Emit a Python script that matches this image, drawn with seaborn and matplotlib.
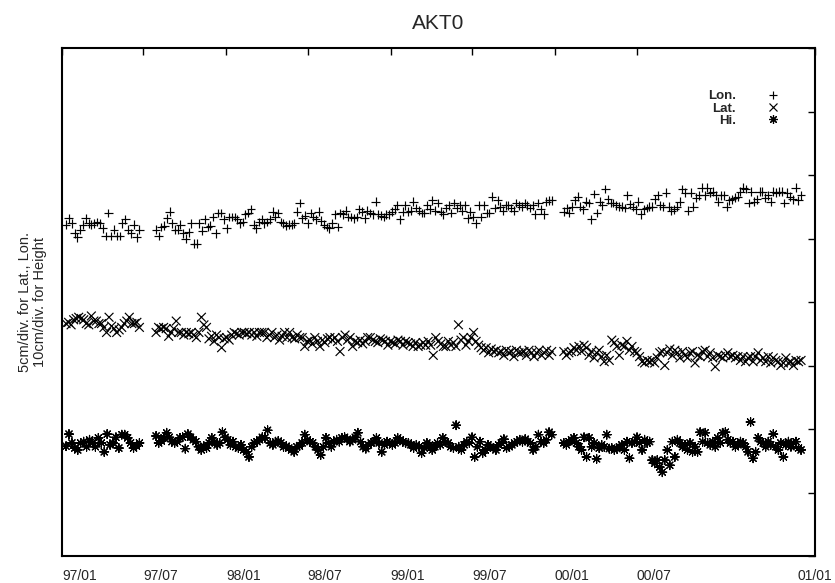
import numpy as np
import pandas as pd
import matplotlib
matplotlib.use("Agg")
import matplotlib.pyplot as plt
import matplotlib.dates as mdates
from matplotlib.lines import Line2D
import seaborn as sns

# observation periods (three campaigns, gaps in mid-1997 and around Y2K)
seg_a = ("1997-01-10", "1997-06-22")
seg_b = ("1997-07-29", "1999-12-25")
seg_c = ("2000-01-21", "2001-07-01")

# Longitude displacement, cm (5 cm/div)
lon_a = [1.1, 1.6, 1.2, 0.4, 0.1, 0.7, 1.1, 1.6, 1.2, 1.1, 1.2, 1.3, 1.2, 0.8, 0.2, 2.0, 0.2, 0.7,
         0.2, 0.2, 1.2, 1.5, 0.7, 0.4, 1.1, 0.1, 0.7]
lon_b = [0.7, 0.2, 0.9, 1.0, 1.6, 2.1, 1.2, 0.7, 0.7, 1.1, 0.4, 0.0, 0.5, 1.2, -0.4, -0.4, 1.2, 0.6,
         1.5, 0.9, 1.0, 1.7, 0.4, 2.0, 2.0, 1.5, 0.8, 1.7, 1.7, 1.7, 1.5, 1.2, 1.3, 1.9, 2.0,
         2.3, 1.1, 0.8, 1.3, 1.5, 1.2, 1.3, 1.5, 2.1, 1.7, 2.0, 1.3, 1.2, 1.0, 1.1, 1.1, 1.2, 2.1,
         2.8, 1.6, 1.8, 1.2, 2.0, 1.7, 1.5, 2.1, 1.4, 1.1, 0.9, 0.8, 1.2, 1.9, 0.9, 2.0, 1.9, 2.2,
         1.7, 1.7, 1.6, 1.7, 2.3, 2.1, 1.6, 2.2, 2.0, 1.9, 2.9, 1.9, 1.8, 1.7, 1.9, 1.9, 2.1, 2.3,
         2.6, 1.5, 2.1, 2.6, 2.1, 2.2, 2.9, 2.4, 2.2, 2.0, 2.0, 2.6, 2.3, 3.0, 2.2, 2.8, 2.1, 1.9,
         2.4, 2.6,
         2.0, 2.8, 2.4, 2.6, 2.2, 2.6, 1.6, 2.1, 1.7, 1.2, 2.6, 1.7, 2.6, 2.0, 2.0, 3.3, 2.4, 3.0,
         2.5, 2.2, 2.6, 2.6, 2.4, 2.2, 2.8, 2.6, 2.5, 2.8, 2.6, 2.4, 2.6, 1.9, 2.8, 2.3, 1.9, 2.9,
         3.0, 3.0]
lon_c = [2.1, 2.4, 2.0, 2.5, 3.0, 3.3, 2.5, 2.3, 2.9, 2.8, 1.5, 3.5, 2.0, 2.9, 2.6, 3.9, 3.1, 2.8,
         2.8, 2.6, 2.5, 2.5, 2.4, 3.4, 2.7, 2.5, 2.3, 2.9, 1.9, 2.3, 2.4, 2.5, 2.5, 3.1, 3.4, 2.6,
         2.5, 3.6, 2.5, 2.2, 2.3, 2.5, 2.9, 3.9, 3.6, 2.2, 3.6, 2.5, 3.2, 3.4, 4.0, 3.4, 4.0, 3.6,
         3.7, 3.4, 2.9, 3.4, 3.4, 2.5, 3.0, 3.1, 3.2, 3.3, 3.7, 4.0, 3.9, 2.8, 3.7, 2.9, 3.1, 3.7,
         3.7, 3.2, 3.4, 2.9, 3.7, 3.6, 3.7, 3.7, 2.8, 3.6, 3.3, 3.1, 4.0, 3.0, 3.4]

# Latitude displacement, cm (5 cm/div)
lat_a = [3.3, 3.4, 3.2, 3.6, 3.7, 3.8, 3.7, 3.6, 3.3, 3.2, 3.9, 3.5, 3.5, 3.3, 3.3, 3.0, 2.6, 3.8,
         3.1, 2.9, 2.6, 2.8, 3.0, 3.3, 3.5, 3.8, 3.3, 3.3, 3.4, 3.0]
lat_b = [2.6, 3.0, 2.9, 3.0, 2.9, 2.3, 2.6, 2.9, 3.5, 2.6, 2.6, 2.4, 2.6, 2.5, 2.6, 2.4, 2.2, 2.6,
         3.8, 3.2, 3.0, 2.1, 2.3, 1.9, 2.4, 2.2, 1.4, 2.1, 2.2, 2.0, 2.4, 2.6, 2.5, 2.4, 2.6, 2.6,
         2.5, 2.6, 2.4, 2.6, 2.3, 2.6,
         2.6, 2.6, 2.2, 2.4, 2.6, 2.2, 2.4, 2.0, 2.3, 2.6, 2.2, 2.6, 2.2, 2.1, 2.4, 2.2, 2.2, 1.5,
         1.9, 2.0, 1.7, 2.2, 1.9, 1.5, 2.0, 1.8, 2.1, 2.2, 2.0, 2.2, 1.9, 1.1, 2.2, 2.4, 2.0, 2.2,
         1.5, 1.9, 1.8, 2.0, 1.7, 1.9, 2.2, 2.2, 2.0, 1.9, 1.8, 2.1, 2.0, 1.9, 1.6, 1.9, 1.8, 1.7,
         2.0, 1.9, 1.6, 1.9, 1.8, 1.7, 1.5, 1.8, 1.5, 1.6, 1.8, 1.6, 1.9, 1.6, 0.8, 2.2, 1.9, 1.7,
         1.5,
         1.5, 1.9, 1.6, 1.8, 1.5, 3.2, 2.0, 2.2, 1.6, 1.9, 2.2, 2.6, 1.9, 1.6, 1.4, 1.2, 1.4, 1.0,
         1.3, 1.1, 1.2, 1.0, 1.1, 0.8, 1.2, 1.0, 1.1, 0.7, 1.2, 1.0, 1.0, 1.1, 0.8, 1.2, 1.0, 0.7,
         1.0, 1.2, 0.8, 1.0, 1.2, 0.8, 1.1]
lat_c = [1.1, 0.8, 1.0, 1.1, 1.4, 1.2, 1.5, 1.1, 1.6, 1.4, 0.8, 1.1, 0.6, 1.0, 1.2, 0.7, 0.3, 0.8,
         0.4, 2.0, 1.8, 1.5, 0.8, 1.6, 1.5, 1.9, 1.2, 1.5, 1.1,
         1.0, 0.7, 0.3, 0.2, 0.4, 0.3, 0.4, 0.2, 0.6, 1.0, 1.1, 0.0, 1.0, 1.3, 0.8, 1.2, 1.0, 0.6,
         1.1, 0.8, 0.6, 1.0, 1.1, 0.2, 0.8, 0.7, 1.1, 1.2, 0.7, 1.0, 0.6, -0.1, 0.8, 0.7, 0.6, 0.8,
         1.0, 0.7, 0.8, 0.6, 0.7, 0.4, 0.7, 0.3, 0.6, 0.7, 0.3, 0.7, 1.0, 0.4, 0.6, 0.3, 0.7, 0.2,
         0.6, 0.4, 0.3, 0.0, 0.2, 0.6, 0.2, 0.3, 0.0, 0.4, 0.3, 0.4]

# Height displacement, cm (10 cm/div)
hi_a = [-2.7, -0.8, -2.2, -3.0, -3.3, -2.2, -2.0, -2.8, -1.7, -2.2, -2.8, -1.4, -2.2, -3.6, -0.8,
        -2.5, -2.2, -1.3, -3.0, -0.9, -0.9, -1.4, -2.2, -3.0, -2.7, -2.2]
hi_b = [-1.1, -2.2, -1.9, -1.4, -0.6, -1.3, -2.0, -2.2, -2.0, -1.4, -1.3, -3.1, -0.8, -1.3, -1.7,
        -2.0, -2.8, -3.3, -2.7, -3.0, -2.2, -1.4, -2.0, -2.5, -2.2, -0.5, -1.3, -1.7, -2.5, -2.0,
        -2.8, -3.0, -2.5, -3.3, -3.6, -4.4, -2.8, -2.2, -2.0, -1.7, -1.3,
        -1.4, -0.2, -2.2, -2.5, -2.0, -1.9, -2.2, -2.8, -2.7, -3.0, -3.3, -3.6, -2.8, -2.7, -2.2,
        -0.9, -1.7, -2.0, -2.2, -2.8, -3.3, -4.1, -2.8, -1.4, -2.2, -2.8, -2.0, -1.7, -2.0, -1.4,
        -1.3, -1.6, -2.0, -1.7, -1.3, -0.6, -2.0, -2.8, -3.1, -2.5, -2.2, -2.0, -1.4, -2.2, -3.6,
        -2.5, -2.0, -2.2, -2.5, -2.2, -1.4, -1.7, -2.0, -2.2, -2.2, -2.5, -3.0, -2.5, -2.8, -3.8,
        -3.0, -2.2, -2.5, -3.3, -2.8, -2.2, -2.5,
        -1.4, -2.0, -2.2, -2.8, -3.0, 0.6, -2.8, -3.3, -2.5, -2.0, -2.2, -1.3, -4.4, -2.8, -2.0,
        -3.8, -3.3, -2.5, -2.8, -3.0, -3.3, -2.5, -2.2, -1.6, -3.0, -2.8, -2.5, -2.2, -2.0, -1.7,
        -2.0, -1.6, -2.0, -2.2, -3.3, -2.8, -0.9, -2.0, -2.2, -1.7, -0.5, -0.9]
hi_c = [-2.2, -2.5, -2.0, -1.7, -1.4, -2.2, -2.8, -3.3, -1.3, -4.4, -1.4, -2.8, -2.2, -4.7, -3.0,
        -2.5, -2.8, -0.9, -3.1, -3.0, -3.3, -3.1, -2.8, -2.5, -3.3, -2.0, -4.6, -2.2, -2.0,
        -1.3, -2.2, -3.3, -1.7, -2.2, -2.0, -4.9, -5.4, -4.9, -6.0, -6.8, -4.9, -3.3, -5.7, -2.0,
        -4.4, -1.7, -2.2, -2.8, -2.5, -3.3, -2.2, -3.6, -2.8, -3.6, -0.5, -2.0, -0.6, -2.2, -2.5,
        -2.0, -2.8, -1.4, -2.2, -0.6, -0.5, -1.7, -2.2, -2.0, -2.8, -2.5, -2.0, -2.2, -2.8, -3.6,
        1.1, -4.6, -3.6, -1.4, -2.0, -2.2, -2.8, -2.0, -2.5, -0.8, -2.8, -3.3, -2.2, -4.4, -2.5,
        -2.0, -2.8, -2.2, -2.0, -3.0, -3.3]

tick_dates = ["1997-01-01", "1997-07-01", "1998-01-01", "1998-07-01", "1999-01-01",
              "1999-07-01", "2000-01-01", "2000-07-01", "2001-08-01"]
tick_labels = ["97/01", "97/07", "98/01", "98/07", "99/01", "99/07", "00/01", "00/07", "01/01"]

# series: (name, segments, cm per division, base division)
series = [("Lon.", [lon_a, lon_b, lon_c], 5.0, 5.0),
          ("Lat.", [lat_a, lat_b, lat_c], 5.0, 3.0),
          ("Hi.", [hi_a, hi_b, hi_c], 10.0, 2.0)]

rows = []
for name, segs, scale, base in series:
    for (start, end), vals in zip([seg_a, seg_b, seg_c], segs):
        dates = pd.date_range(start, end, periods=len(vals))
        rows.append(pd.DataFrame({"date": dates, "pos": base + np.array(vals) / scale,
                                  "series": name}))
df = pd.concat(rows, ignore_index=True)

sns.set_style("white")
plt.rcParams["font.family"] = ["Liberation Sans", "DejaVu Sans"]

markers = {"Lon.": "+", "Lat.": "x", "Hi.": (8, 2, 0)}

fig = plt.figure(figsize=(8.35, 5.83), dpi=100)
ax = fig.add_axes([62 / 835, 27 / 583, 753 / 835, 508 / 583])

sns.scatterplot(data=df, x="date", y="pos", style="series", markers=markers,
                color="black", s=40, linewidth=0.85, legend=False, ax=ax)

ax.set_xlim(mdates.date2num(pd.Timestamp("1997-01-01")), mdates.date2num(pd.Timestamp("2001-08-01")))
ax.set_ylim(0, 8)
ax.set_xticks(mdates.date2num(pd.to_datetime(tick_dates)))
ax.set_xticklabels(tick_labels, fontsize=10)
for i, lab in enumerate(ax.get_xticklabels()):
    lab.set_ha("center" if i == len(tick_labels) - 1 else "left")
ax.set_yticks(range(0, 9))
ax.set_yticklabels([])
ax.tick_params(direction="in", length=5, width=1, top=True, right=True, color="black", pad=9)
for sp in ax.spines.values():
    sp.set_visible(True)
    sp.set_color("black")
    sp.set_linewidth(1.5)
ax.grid(False)

ax.set_xlabel("")
ax.set_ylabel("5cm/div. for Lat., Lon.\n10cm/div. for Height", fontsize=10.5, labelpad=2,
              linespacing=1.1)
ax.set_title("AKT0", fontsize=15, pad=14)

handles = [Line2D([], [], linestyle="none", marker=markers[n], color="black",
                  markersize=6.3, markeredgewidth=0.85) for n, _, _, _ in series]
leg = ax.legend(handles, [n for n, _, _, _ in series], loc="upper right",
                bbox_to_anchor=(0.962, 0.93), frameon=False, markerfirst=False,
                prop={"weight": "bold", "size": 9.5}, handlelength=1.0, handletextpad=2.3,
                labelspacing=0.0, borderpad=0)

fig.savefig("out.png", dpi=100)
